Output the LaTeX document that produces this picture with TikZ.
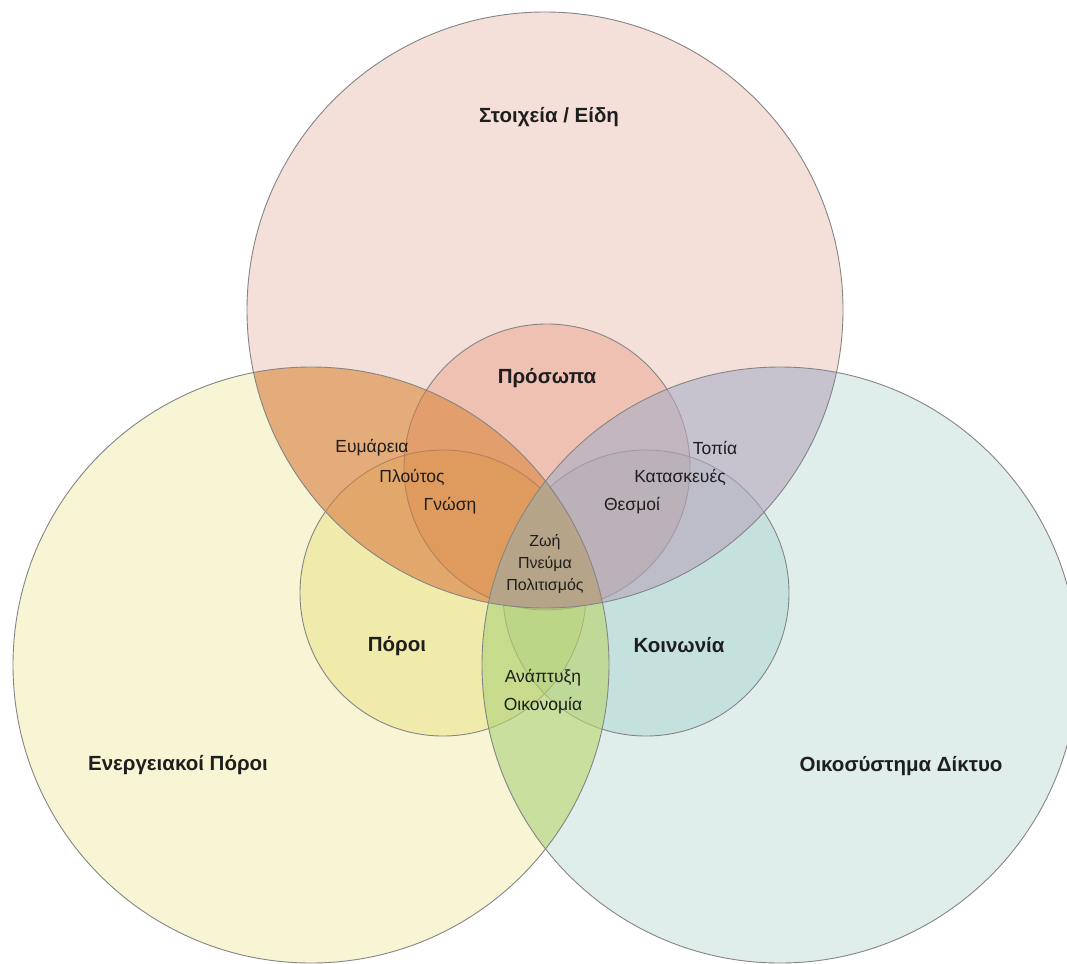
\documentclass[tikz,border=0pt]{standalone}
\usepackage{fontspec}
\setmainfont{Liberation Sans}
\usepackage{tikz}
\definecolor{pinkbig}{HTML}{F5DFD9}
\definecolor{creambig}{HTML}{F8F5D4}
\definecolor{tealbig}{HTML}{E0EEEB}
\definecolor{pinksmall}{HTML}{F9DDD3}
\definecolor{creamsmall}{HTML}{F8F5CE}
\definecolor{tealsmall}{HTML}{E1F2F0}
\definecolor{orangelens}{HTML}{D87B40}
\definecolor{lilaclens}{HTML}{B6A6BC}
\definecolor{greenlens}{HTML}{BBD56C}
\definecolor{browncore}{HTML}{B2A783}
\definecolor{rimgray}{HTML}{858585}
\definecolor{inkgray}{HTML}{1E1E1E}
\newcommand{\Rbig}{298pt}
\newcommand{\Rsmall}{143pt}

\begin{document}
\begin{tikzpicture}[x=1pt, y=-1pt,
    rim/.style={draw=rimgray, line width=0.9pt},
    lens/.style={opacity=0.6},
    headlbl/.style={font=\bfseries\fontsize{20.5}{24}\selectfont, text=inkgray},
    itemlbl/.style={font=\fontsize{17.5}{20}\selectfont, text=inkgray},
    corelbl/.style={font=\fontsize{16}{18}\selectfont, text=inkgray}]
    \useasboundingbox (0,0) rectangle (1067,963);
    \fill[white] (0,0) rectangle (1067,963);

    % Centres
    \coordinate (T) at (545,310);
    \coordinate (L) at (311,665);
    \coordinate (R) at (780,665);
    \coordinate (t) at (547,467);
    \coordinate (l) at (443,593);
    \coordinate (r) at (646,593);

    % Big circles
    \fill[pinkbig] (T) circle[radius=\Rbig];
    \fill[creambig] (L) circle[radius=\Rbig];
    \fill[tealbig] (R) circle[radius=\Rbig];

    % Small circles
    \fill[pinksmall, blend mode=multiply] (t) circle[radius=\Rsmall];
    \fill[creamsmall, blend mode=multiply] (l) circle[radius=\Rsmall];
    \fill[tealsmall, blend mode=multiply] (r) circle[radius=\Rsmall];
    \foreach \c in {t,l,r} \draw[rim] (\c) circle[radius=\Rsmall];

    % Overlaps of the big circles
    \begin{scope}
        \clip (L) circle[radius=\Rbig];
        \fill[greenlens, lens] (R) circle[radius=\Rbig];
    \end{scope}
    \begin{scope}
        \clip (T) circle[radius=\Rbig];
        \fill[orangelens, lens] (L) circle[radius=\Rbig];
        \fill[lilaclens, lens] (R) circle[radius=\Rbig];
        \clip (L) circle[radius=\Rbig];
        \fill[browncore, lens] (R) circle[radius=\Rbig];
    \end{scope}
    \foreach \c in {T,L,R} \draw[rim] (\c) circle[radius=\Rbig];

    % Labels
    \node[headlbl] (elements) at (549,117) {Στοιχεία / Είδη};
    \node[headlbl] (persons) at (547,378) {Πρόσωπα};
    \node[headlbl] (resources) at (397,646) {Πόροι};
    \node[headlbl] (society) at (679,645) {Κοινωνία};
    \node[headlbl] (energy) at (178,765) {Ενεργειακοί Πόροι};
    \node[headlbl] (network) at (901,766) {Οικοσύστημα Δίκτυο};

    \node[itemlbl] (affluence) at (372,448) {Ευμάρεια};
    \node[itemlbl] (wealth) at (412,477) {Πλούτος};
    \node[itemlbl] (knowledge) at (450,506) {Γνώση};
    \node[itemlbl] (landscape) at (715,448) {Τοπία};
    \node[itemlbl] (buildings) at (680,477) {Κατασκευές};
    \node[itemlbl] (institutions) at (632,506) {Θεσμοί};
    \node[itemlbl] (growth) at (543,678) {Ανάπτυξη};
    \node[itemlbl] (economy) at (543,706) {Οικονομία};

    \foreach \w [count=\i] in {Ζωή, Πνεύμα, Πολιτισμός}
        \node[corelbl] (core\i) at (545,521+21.5*\i) {\w};
\end{tikzpicture}
\end{document}
